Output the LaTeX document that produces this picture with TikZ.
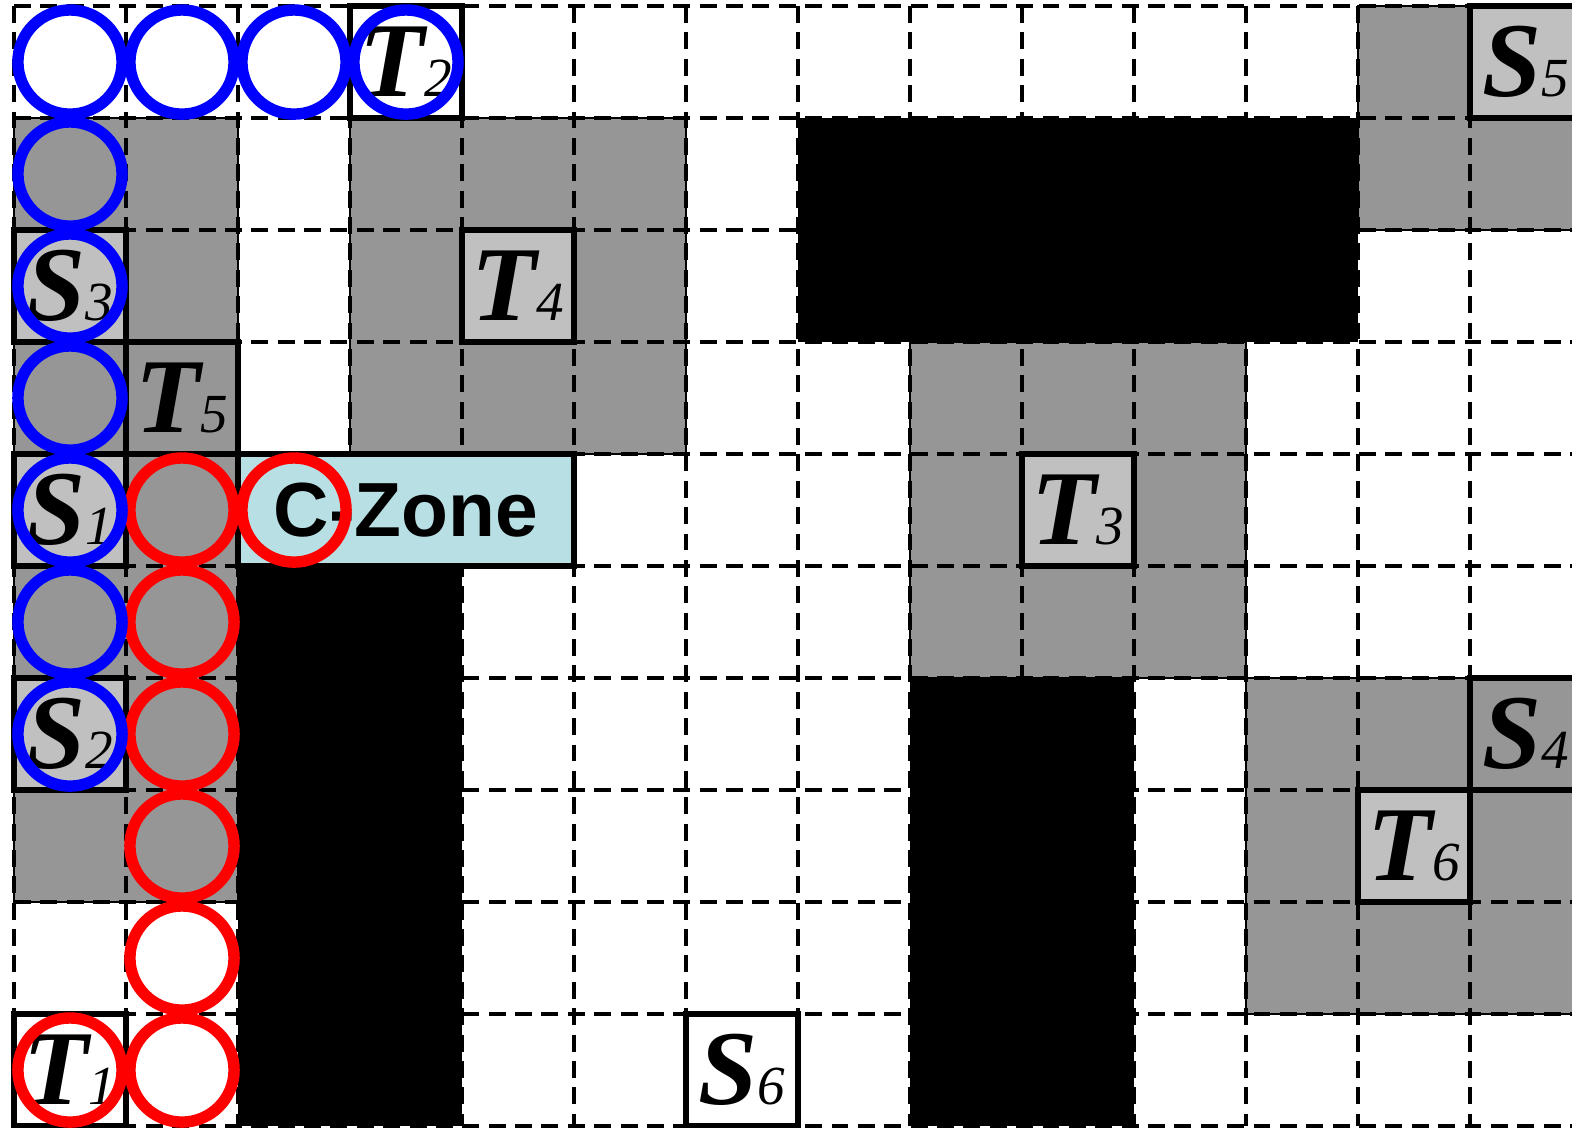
\documentclass[tikz,border=0pt]{standalone}
\usepackage{fontspec}
\setmainfont{Liberation Serif}
\newfontfamily\zonefont{Liberation Sans}

\definecolor{cellgray}{RGB}{150,150,150}
\definecolor{boxgray}{RGB}{192,192,192}
\definecolor{zonecyan}{RGB}{184,224,228}

% label of a start / target cell: bold italic letter, italic index
\newcommand{\lbl}[2]{{\fontsize{27}{27}\selectfont\bfseries\itshape #1}{\fontsize{14}{14}\selectfont\itshape #2}}

\begin{document}
\begin{tikzpicture}[x=1cm, y=-1cm, line join=miter,
  grayarea/.style={fill=cellgray, draw=black, line width=0.5pt},
  gridline/.style={line width=1pt, dash pattern=on 4.3pt off 2.4pt},
  wall/.style={fill=black},
  tbox/.style={draw=black, line width=1.4pt, minimum size=1cm, inner sep=0pt, outer sep=0pt},
  redring/.style={red, line width=2.9pt},
  bluering/.style={blue, line width=2.9pt}]

\useasboundingbox (-0.125,-0.054) rectangle (13.911,10.009);
\clip (-0.125,-0.054) rectangle (13.911,10.009);

% -----------------------
% Gray regions
% -----------------------
\foreach \xa/\ya/\xb/\yb in {0/1/2/8, 3/1/6/4, 8/3/11/6, 12/0/14/2, 11/6/14/9}{
  \filldraw[grayarea] (\xa,\ya) rectangle (\xb,\yb);
}

% -----------------------
% Dashed grid
% -----------------------
\foreach \r in {0,...,10}{
  \draw[gridline] (0,\r) -- (14,\r);
}
\foreach \c in {0,...,13}{
  \draw[gridline] (\c,0) -- (\c,10);
}

% -----------------------
% Obstacles
% -----------------------
\foreach \xa/\ya/\xb/\yb in {7/1/12/3, 2/5/4/10, 8/6/10/10}{
  \fill[wall] (\xa,\ya) rectangle (\xb,\yb);
}

% -----------------------
% Start and target cells
% -----------------------
\node[tbox, fill=white]    (t2) at (3.5,0.5)  {\lbl{T}{2}};
\node[tbox, fill=boxgray]  (s5) at (13.5,0.5) {\lbl{S}{5}};
\node[tbox, fill=boxgray]  (s3) at (0.5,2.5)  {\lbl{S}{3}};
\node[tbox, fill=boxgray]  (t4) at (4.5,2.5)  {\lbl{T}{4}};
\node[tbox, fill=cellgray] (t5) at (1.5,3.5)  {\lbl{T}{5}};
\node[tbox, fill=boxgray]  (s1) at (0.5,4.5)  {\lbl{S}{1}};
\node[tbox, fill=boxgray]  (t3) at (9.5,4.5)  {\lbl{T}{3}};
\node[tbox, fill=boxgray]  (s2) at (0.5,6.5)  {\lbl{S}{2}};
\node[tbox, fill=cellgray] (s4) at (13.5,6.5) {\lbl{S}{4}};
\node[tbox, fill=boxgray]  (t6) at (12.5,7.5) {\lbl{T}{6}};
\node[tbox, fill=white]    (t1) at (0.5,9.5)  {\lbl{T}{1}};
\node[tbox, fill=white]    (s6) at (6.5,9.5)  {\lbl{S}{6}};

% conflict zone
\node[tbox, fill=zonecyan, minimum width=3cm] (czone) at (3.5,4.5)
  {\zonefont\bfseries\fontsize{19.5}{19.5}\selectfont C-Zone};

% -----------------------
% Routes (red first, blue on top)
% -----------------------
\foreach \c/\r in {1/4,1/5,1/6,1/7,1/8,1/9,2/4,0/9}{
  \draw[redring] (\c+0.5,\r+0.5) circle (0.465cm);
}
\foreach \c/\r in {0/0,1/0,2/0,3/0,0/1,0/2,0/3,0/4,0/5,0/6}{
  \draw[bluering] (\c+0.5,\r+0.5) circle (0.465cm);
}

\end{tikzpicture}
\end{document}
